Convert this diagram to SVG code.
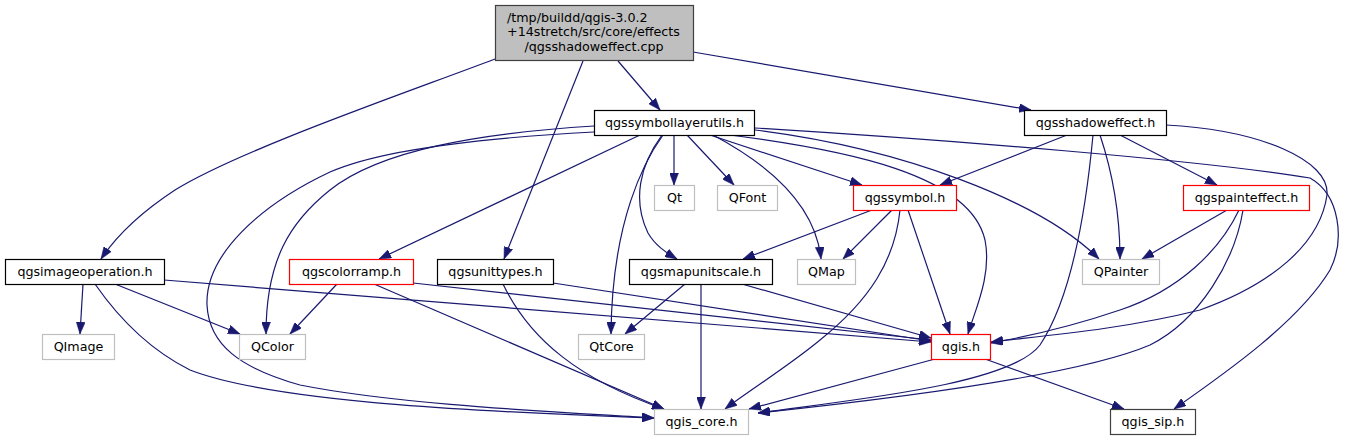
<svg xmlns="http://www.w3.org/2000/svg" width="1345" height="440" viewBox="0 0 1345 440">
<style>
  rect{fill:#ffffff;stroke:#000000;stroke-width:1.2}
  .root rect{fill:#bfbfbf;stroke:#404040}
  .sip rect{stroke:#404040}
  .g rect{stroke:#bfbfbf}
  .r rect{stroke:#ff0000}
  text{font-family:"DejaVu Sans","Liberation Sans",sans-serif;font-size:12.7px;fill:#000000;text-anchor:middle}
  #edges path{fill:none;stroke:#191970;stroke-width:1.2;marker-end:url(#ah)}
</style>
<defs>
  <marker id="ah" markerUnits="userSpaceOnUse" markerWidth="12" markerHeight="9" viewBox="0 0 12 9" refX="12" refY="4.5" orient="auto">
    <path d="M0,0 L12,4.5 L0,9 z" fill="#191970" stroke="#191970" stroke-width="0.5"/>
  </marker>
</defs>
<rect x="0" y="0" width="1345" height="440" style="fill:#ffffff;stroke:none"/>
<g id="edges">
  <path d="M495,59 C400,95 240,150 175,190 C140,213 115,238 101,259"/>
  <path d="M583,61 L504,259"/>
  <path d="M618,61 L660,110"/>
  <path d="M693,52 L1031,110"/>
  <path d="M594,132 C480,138 380,150 330,172 C260,205 205,255 207,305 C209,345 240,368 300,385 C400,405 560,412 654,418"/>
  <path d="M594,126 C480,133 380,150 330,190 C290,222 266,260 266,334"/>
  <path d="M640,135 L379,259"/>
  <path d="M663,135 C645,160 612,220 611,334"/>
  <path d="M662,135 C640,165 632,200 648,233 C655,245 665,252 677,259"/>
  <path d="M674,135 L674,185"/>
  <path d="M687,135 L734,185"/>
  <path d="M713,135 C760,160 815,200 821,259"/>
  <path d="M710,135 L862,185"/>
  <path d="M722,134 C850,150 970,175 985,240 C992,275 975,310 968,334"/>
  <path d="M755,130 C900,148 1040,200 1099,259"/>
  <path d="M755,128 C950,140 1200,160 1310,178 C1340,195 1345,240 1330,270 C1300,320 1230,370 1174,409"/>
  <path d="M1067,135 L940,185"/>
  <path d="M1093,135 C1085,220 1070,300 1040,345 C1010,385 850,400 758,413"/>
  <path d="M1100,135 C1115,180 1120,220 1120,259"/>
  <path d="M1120,135 L1217,185"/>
  <path d="M1166,125 C1260,130 1330,160 1327,195 C1320,245 1270,285 1200,310 C1120,330 1040,336 991,342"/>
  <path d="M1227,210 L1142,259"/>
  <path d="M1239,210 C1220,250 1180,290 1120,310 C1070,327 1030,336 991,343"/>
  <path d="M1243,210 C1235,260 1200,320 1150,345 C1080,375 900,398 758,413"/>
  <path d="M872,210 L743,259"/>
  <path d="M892,210 L843,259"/>
  <path d="M908,210 L950,334"/>
  <path d="M900,210 C895,260 870,300 820,340 C790,365 750,390 725,409"/>
  <path d="M83,284 L80,334"/>
  <path d="M115,284 L240,334"/>
  <path d="M95,284 C120,320 150,350 190,370 C280,405 520,413 654,418"/>
  <path d="M164,280 L931,342"/>
  <path d="M337,284 L290,334"/>
  <path d="M374,284 L664,409"/>
  <path d="M413,283 L931,340"/>
  <path d="M503,284 C530,340 580,380 664,409"/>
  <path d="M553,283 L931,341"/>
  <path d="M685,284 L625,334"/>
  <path d="M701,284 L701,409"/>
  <path d="M742,284 L931,338"/>
  <path d="M935,359 L749,409"/>
  <path d="M985,359 L1124,409"/>
</g>
<g id="n_root" class="root">
  <rect x="495.5" y="5.5" width="198" height="55"/>
  <text x="507" y="21.5" style="text-anchor:start">/tmp/buildd/qgis-3.0.2</text>
  <text x="507" y="36" style="text-anchor:start">+14stretch/src/core/effects</text>
  <text x="594" y="50.5">/qgsshadoweffect.cpp</text>
</g>
<g id="n_qgssymbollayerutils"><rect x="594.5" y="110.5" width="160" height="25"/><text x="674.5" y="127">qgssymbollayerutils.h</text></g>
<g id="n_qgsshadoweffect"><rect x="1024.5" y="110.5" width="142" height="25"/><text x="1095.5" y="127">qgsshadoweffect.h</text></g>
<g id="n_Qt" class="g"><rect x="654.5" y="185.5" width="40" height="25"/><text x="674.5" y="202">Qt</text></g>
<g id="n_QFont" class="g"><rect x="717.5" y="185.5" width="60" height="25"/><text x="747.5" y="202">QFont</text></g>
<g id="n_qgssymbol" class="r"><rect x="853.5" y="185.5" width="103" height="25"/><text x="905" y="202">qgssymbol.h</text></g>
<g id="n_qgspainteffect" class="r"><rect x="1183.5" y="185.5" width="126" height="25"/><text x="1246.5" y="202">qgspainteffect.h</text></g>
<g id="n_qgsimageoperation"><rect x="5.5" y="259.5" width="159" height="25"/><text x="85" y="276">qgsimageoperation.h</text></g>
<g id="n_qgscolorramp" class="r"><rect x="289.5" y="259.5" width="124" height="25"/><text x="351.5" y="276">qgscolorramp.h</text></g>
<g id="n_qgsunittypes"><rect x="437.5" y="259.5" width="116" height="25"/><text x="495.5" y="276">qgsunittypes.h</text></g>
<g id="n_qgsmapunitscale"><rect x="629.5" y="259.5" width="143" height="25"/><text x="701" y="276">qgsmapunitscale.h</text></g>
<g id="n_QMap" class="g"><rect x="797.5" y="259.5" width="58" height="25"/><text x="826.5" y="276">QMap</text></g>
<g id="n_QPainter" class="g"><rect x="1082.5" y="259.5" width="77" height="25"/><text x="1121" y="276">QPainter</text></g>
<g id="n_QImage" class="g"><rect x="42.5" y="334.5" width="72" height="25"/><text x="78.5" y="351">QImage</text></g>
<g id="n_QColor" class="g"><rect x="239.5" y="334.5" width="66" height="25"/><text x="272.5" y="351">QColor</text></g>
<g id="n_QtCore" class="g"><rect x="578.5" y="334.5" width="66" height="25"/><text x="611.5" y="351">QtCore</text></g>
<g id="n_qgis" class="r"><rect x="931.5" y="334.5" width="59" height="25"/><text x="961" y="351">qgis.h</text></g>
<g id="n_qgis_core" class="g"><rect x="654.5" y="409.5" width="94" height="25"/><text x="701.5" y="426">qgis_core.h</text></g>
<g id="n_qgis_sip" class="sip"><rect x="1110.5" y="409.5" width="85" height="25"/><text x="1153" y="426">qgis_sip.h</text></g>
</svg>
